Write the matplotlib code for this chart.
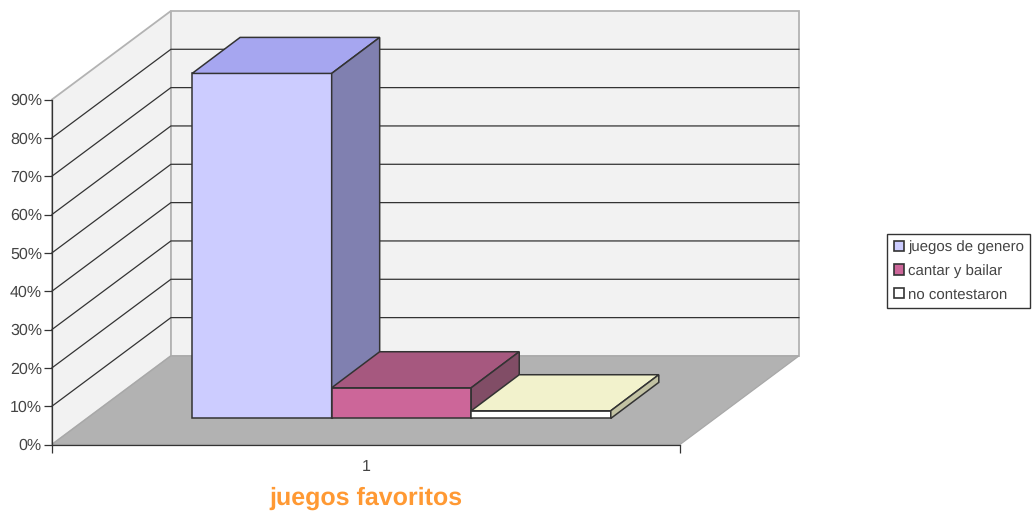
import matplotlib
matplotlib.use('Agg')
import matplotlib.pyplot as plt
from matplotlib.patches import Patch

plt.rcParams['font.family'] = ['Liberation Sans', 'DejaVu Sans']
plt.rcParams['text.hinting'] = 'no_hinting'
plt.rcParams['text.hinting_factor'] = 1

names = ['juegos de genero', 'cantar y bailar', 'no contestaron']
values = [90, 8, 2]
front_colors = ['#ccccff', '#cc6699', '#ffffff']
top_colors = ['#a6a6f0', '#a6587f', '#f2f2cc']
side_colors = ['#8080b0', '#814d66', '#c2c2a3']
yticks = [0, 10, 20, 30, 40, 50, 60, 70, 80, 90]
ytick_labels = ['0%', '10%', '20%', '30%', '40%', '50%', '60%', '70%', '80%', '90%']
category_labels = ['1']

W, H = 1032, 514
fig = plt.figure(figsize=(W / 100, H / 100), dpi=100)
ax = fig.add_axes([52 / W, (H - 444.5) / H, 628 / W, 345 / H])
ax.set_xlim(0, 4.5)
ax.set_ylim(0, 90)
ax.patch.set_visible(False)

# fake 3d, depth is a shift in data units (1 bar wide = 139.6px, 1% = 3.83px)
wall_dx, wall_dy = 0.852, 23.1
gap = 0.75
bar_dx, bar_dy = 0.344, 9.4
start_dx, start_dy = 0.254, 6.8
dark = '#333333'
grey = '#b3b3b3'
lw = 0.9


def poly(xs, ys, color, edge, z=1, width=lw):
    ax.fill(xs, ys, facecolor=color, edgecolor=edge, linewidth=width, zorder=z,
            clip_on=False, joinstyle='miter')


# walls and floor
xmax = 4.5
poly([0, wall_dx, wall_dx, 0], [0, wall_dy, 90 + wall_dy, 90], '#f2f2f2', grey, 1, 1.3)
poly([wall_dx, xmax + wall_dx, xmax + wall_dx, wall_dx],
     [wall_dy, wall_dy, 90 + wall_dy, 90 + wall_dy], '#f2f2f2', grey, 1, 1.3)
poly([0, xmax, xmax + wall_dx, wall_dx], [0, 0, wall_dy, wall_dy], '#b2b2b2', '#a8a8a8')

# grid lines
for v in yticks[1:-1]:
    ax.plot([0, wall_dx, xmax + wall_dx], [v, v + wall_dy, v + wall_dy],
            color=dark, lw=lw, zorder=2, clip_on=False)

# bars, left to right so each one covers the side of the one before
for i, v in enumerate(values):
    x0 = gap + start_dx + i
    x1 = x0 + 1
    y0 = start_dy
    y1 = start_dy + v
    poly([x0, x1, x1, x0], [y0, y0, y1, y1], front_colors[i], dark, 3 + i, 1.1)
    poly([x0, x1, x1 + bar_dx, x0 + bar_dx], [y1, y1, y1 + bar_dy, y1 + bar_dy],
         top_colors[i], dark, 3 + i, 1.1)
    poly([x1, x1 + bar_dx, x1 + bar_dx, x1], [y0, y0 + bar_dy, y1 + bar_dy, y1],
         side_colors[i], dark, 3 + i, 1.1)

for s in ['top', 'right']:
    ax.spines[s].set_visible(False)
for s in ['left', 'bottom']:
    ax.spines[s].set_color(dark)
    ax.spines[s].set_linewidth(lw)

ax.set_yticks(yticks)
ax.set_yticklabels(ytick_labels)
ax.tick_params(axis='y', length=5.8, width=lw, color=dark, labelcolor='#444444',
               labelsize=11.2, pad=1.4)
ax.set_xticks([0, xmax])
ax.set_xticklabels(['', ''])
ax.tick_params(axis='x', length=5.8, width=lw, color=dark)
ax.set_xticks([xmax / 2], minor=True)
ax.set_xticklabels(category_labels, minor=True)
ax.tick_params(axis='x', which='minor', length=0, labelcolor='#444444',
               labelsize=11.2, pad=10.5)
ax.set_xlabel('juegos favoritos', fontsize=18, fontweight='bold', color='#ff9933', labelpad=9)

handles = [Patch(facecolor=c, edgecolor=dark, linewidth=1.2) for c in front_colors]
ax.legend(handles, names, loc='upper left', bbox_to_anchor=(887 / W, 1 - 234 / H),
          bbox_transform=fig.transFigure, borderaxespad=0, fontsize=11.15, frameon=True,
          fancybox=False, framealpha=1, edgecolor=dark, labelcolor='#444444',
          handlelength=0.68, handleheight=0.68, handletextpad=0.25, labelspacing=0.62,
          borderpad=0.42)

fig.savefig('out.png', dpi=100)
